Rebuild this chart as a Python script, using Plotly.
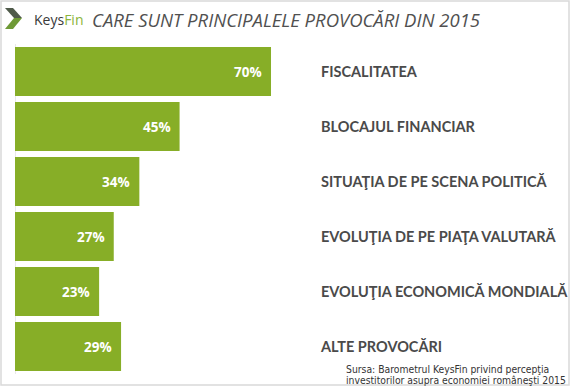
import plotly.graph_objects as go

categories = ["FISCALITATEA", "BLOCAJUL FINANCIAR", "SITUAŢIA DE PE SCENA POLITICĂ",
              "EVOLUŢIA DE PE PIAŢA VALUTARĂ", "EVOLUŢIA ECONOMICĂ MONDIALĂ", "ALTE PROVOCĂRI"]
values = [70, 45, 34, 27, 23, 29]
value_labels = [f"{v}%" for v in values]

W, H = 570, 387
L, R, T, B = 15, 254, 44, 13
PW, PH = W - L - R, H - T - B

def px(xp):
    return (xp - L) / PW

def py(yp):
    return (H - B - yp) / PH

GREEN = "#87ae27"

fig = go.Figure()
fig.add_trace(go.Bar(
    x=values, y=categories, orientation="h",
    marker=dict(color=GREEN, line=dict(width=0)),
    hoverinfo="skip",
))

annotations = []
for c, v, t in zip(categories, values, value_labels):
    annotations.append(dict(
        x=v, y=c, xref="x", yref="y", text=f"<b>{t}</b>", showarrow=False,
        xanchor="right", yanchor="middle", xshift=-7,
        font=dict(family="Open Sans", size=13.5, color="white"),
    ))

# title + logo text
annotations.append(dict(
    x=px(90), y=py(19), xref="paper", yref="paper", xanchor="left", yanchor="middle",
    text="<i>CARE SUNT PRINCIPALELE PROVOCĂRI DIN 2015</i>", showarrow=False,
    font=dict(family="Open Sans", size=18.5, color="#505050"),
))
annotations.append(dict(
    x=px(32), y=py(19), xref="paper", yref="paper", xanchor="left", yanchor="middle",
    text="Keys<span style='color:#8ab43a'>Fin</span>", showarrow=False,
    font=dict(family="Open Sans", size=14, color="#3a3a3a"),
))
# source
annotations.append(dict(
    x=px(344), y=py(369), xref="paper", yref="paper", xanchor="left", yanchor="middle",
    text="Sursa: Barometrul KeysFin privind percepţia", showarrow=False,
    font=dict(family="DejaVu Sans Condensed", size=10.3, color="#333333"),
))
annotations.append(dict(
    x=px(344), y=py(379.5), xref="paper", yref="paper", xanchor="left", yanchor="middle",
    text="investitorilor asupra economiei româneşti 2015", showarrow=False,
    font=dict(family="DejaVu Sans Condensed", size=10.3, color="#333333"),
))

shapes = [
    # outer frame
    dict(type="rect", xref="paper", yref="paper", x0=px(1), x1=px(569), y0=py(1), y1=py(385),
         line=dict(color="#d9d9d9", width=1.5), fillcolor="rgba(0,0,0,0)", layer="below"),
    # axis line
    dict(type="line", xref="x", yref="paper", x0=0, x1=0, y0=0, y1=1,
         line=dict(color="#d4d4d4", width=1), layer="below"),
    # logo chevron: upper arm (dark) and lower arm (green)
    dict(type="path", xref="paper", yref="paper",
         path=f"M {px(5)},{py(8)} L {px(13)},{py(8)} L {px(22)},{py(18)} L {px(14)},{py(18)} Z",
         fillcolor="#4f5a4a", line=dict(width=0)),
    dict(type="path", xref="paper", yref="paper",
         path=f"M {px(14)},{py(18)} L {px(22)},{py(18)} L {px(13)},{py(29)} L {px(5)},{py(29)} Z",
         fillcolor="#6f9a36", line=dict(width=0)),
]

fig.update_layout(
    width=W, height=H,
    margin=dict(l=L, r=R, t=T, b=B, autoexpand=False),
    paper_bgcolor="white", plot_bgcolor="white",
    bargap=0.11,
    showlegend=False,
    xaxis=dict(range=[0, 82.3], showgrid=False, zeroline=False, showticklabels=False,
               showline=False, fixedrange=True, automargin=False),
    yaxis=dict(type="category", autorange="reversed", side="right", showgrid=False,
               zeroline=False, showline=False, ticks="", ticklabelstandoff=4,
               tickfont=dict(family="Lato", size=14.5, color="#4a4a4a", weight="bold"),
               fixedrange=True, automargin=False),
    annotations=annotations,
    shapes=shapes,
)

fig.write_html("out.html", config={"displayModeBar": False},
               post_script="document.body.style.margin='0';document.body.style.padding='0';")
